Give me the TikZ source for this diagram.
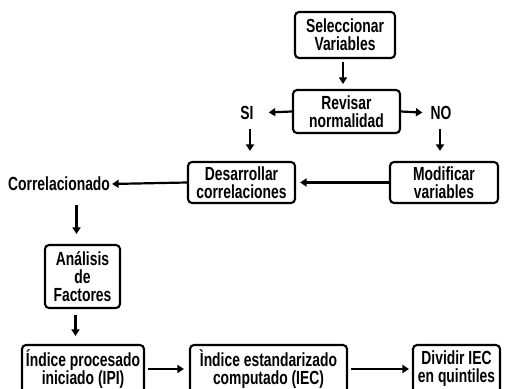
\documentclass[tikz,border=0pt]{standalone}
\usepackage{fontspec}
\newfontfamily\cond{Liberation Sans Bold}[FakeStretch=0.73]
\usetikzlibrary{arrows.meta}
\begin{document}
\begin{tikzpicture}[x=1pt,y=-1pt,
  box/.style={draw,line width=2.1pt,rounded corners=4pt,align=center,inner sep=0pt,
    font=\cond\fontsize{19}{18}\selectfont},
  lbl/.style={inner sep=0pt,font=\cond\fontsize{19}{18}\selectfont},
  arr/.style={line width=2.2pt,-{Triangle[length=6.5pt,width=8pt]}}]
\useasboundingbox (0,0) rectangle (510,388);
\clip (0,0) rectangle (510,388);
\node[box,minimum width=100pt,minimum height=46pt] (sel) at (345,35) {Seleccionar\\Variables};
\node[box,minimum width=107pt,minimum height=43pt] (rev) at (346.5,111.5) {Revisar\\normalidad};
\node[lbl] (si) at (247,113) {SI};
\node[lbl] (no) at (441,113) {NO};
\node[box,minimum width=107pt,minimum height=41pt] (des) at (241.5,182.5) {Desarrollar\\correlaciones};
\node[box,minimum width=108pt,minimum height=41pt] (mod) at (444,182.5) {Modificar\\variables};
\node[lbl,anchor=west] (cor) at (8,184) {Correlacionado};
\node[box,minimum width=75pt,minimum height=63pt] (ana) at (82.5,276.5) {Análisis\\de\\Factores};
\node[box,minimum width=122pt,minimum height=48pt] (ipi) at (83,369) {Índice procesado\\iniciado (IPI)};
\node[box,minimum width=157pt,minimum height=48pt] (iec) at (268.5,369) {Ìndice estandarizado\\computado (IEC)};
\node[box,minimum width=87pt,minimum height=48pt] (div) at (456.5,369) {Dividir IEC\\en quintiles};
\draw[arr,shorten <=3pt,shorten >=5pt] ([xshift=-2pt]sel.south) -- ([xshift=-2pt]sel.south |- rev.north);
\draw[arr,shorten >=15pt] (rev.west) -- (si.east);
\draw[arr,shorten >=8pt] (rev.east) -- (no.west);
\draw[arr,shorten <=9.5pt] ([xshift=3pt]si.south) -- ++(0,31);
\draw[arr,shorten <=9.5pt] ([xshift=-1pt]no.south) -- ++(0,31);
\draw[arr,shorten >=4pt] (mod.west) -- (des.east);
\draw[arr,shorten >=2pt] (des.west) -- (cor.east);
\draw[arr,shorten <=14pt,shorten >=10pt] ([xshift=-6pt]ana.north |- cor.south) -- ([xshift=-6pt]ana.north);
\draw[arr,shorten <=6pt,shorten >=8pt] ([xshift=-7pt]ana.south) -- ([xshift=-7pt]ana.south |- ipi.north);
\draw[arr,shorten >=5pt,shorten <=3pt] (ipi.east) -- (iec.west);
\draw[arr,shorten >=3pt,shorten <=3pt] (iec.east) -- (div.west);
\end{tikzpicture}
\end{document}
